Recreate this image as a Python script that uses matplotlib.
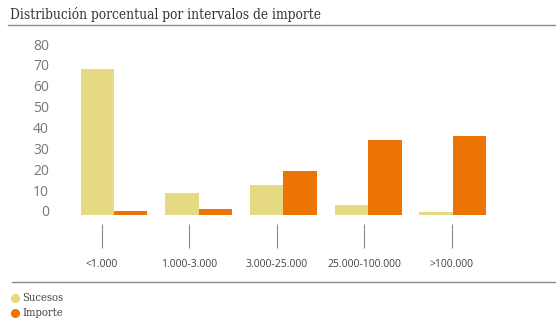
import matplotlib
matplotlib.use("Agg")
import matplotlib.pyplot as plt
from matplotlib.transforms import ScaledTranslation
from matplotlib.lines import Line2D
import numpy as np

categories = ["<1.000", "1.000-3.000", "3.000-25.000", "25.000-100.000", ">100.000"]
sucesos = [69.8, 10.4, 14.4, 4.8, 1.4]
importe = [1.9, 2.7, 21.2, 35.9, 38.0]
series_names = ["Sucesos", "Importe"]
yticks = [0, 10, 20, 30, 40, 50, 60, 70, 80]

C_SUC = "#E5D981"
C_IMP = "#EC7404"
GRID = "#8a8a8a"

W, H = 556, 322
fig = plt.figure(figsize=(W / 100, H / 100), dpi=100)

# axes placement in pixels
L, R, T, B = 60, 540, 48, 224
ax = fig.add_axes([L / W, 1 - B / H, (R - L) / W, (B - T) / H])

c0, step = 114, 84.7   # pixel of first group center, spacing
ax.set_xlim((L - c0) / step, (R - c0) / step)
ax.set_ylim(-(B - 215) / ((215 - T) / 80), 80)

x = np.arange(len(categories))
w = 0.395
ax.bar(x - w / 2, sucesos, w, color=C_SUC, linewidth=0)
ax.bar(x + w / 2, importe, w, color=C_IMP, linewidth=0)

for s in ax.spines.values():
    s.set_visible(False)

ax.set_yticks(yticks)
ax.set_yticklabels([str(v) for v in yticks])
ax.tick_params(axis="y", length=0, pad=8, labelsize=10, labelcolor="#777777")
for lab in ax.get_yticklabels():
    lab.set_fontfamily("Open Sans")
    lab.set_transform(lab.get_transform() + ScaledTranslation(0, 4 / 100, fig.dpi_scale_trans))

tick_pos = x * 1.033 - 0.142
ax.set_xticks(tick_pos)
ax.set_xticklabels(categories)
ax.tick_params(axis="x", length=17.3, width=0.8, color=GRID, direction="out",
               pad=8, labelsize=7.5, labelcolor="#444444")
for lab in ax.get_xticklabels():
    lab.set_fontfamily("Open Sans")

# title and rules
fig.text(10 / W, 1 - 19.5 / H, "Distribución porcentual por intervalos de importe",
         fontsize=9.8, family="DejaVu Serif", stretch="condensed", color="#333333",
         va="baseline", ha="left")
fig.add_artist(Line2D([8 / W, 1], [1 - 24.5 / H] * 2, color=GRID, lw=1))
fig.add_artist(Line2D([12 / W, 1], [1 - 281.5 / H] * 2, color=GRID, lw=1))

# legend
for name, col, yy in zip(series_names, [C_SUC, C_IMP], [298, 313]):
    fig.add_artist(Line2D([15 / W], [1 - yy / H], marker="o", markersize=5.5,
                          color=col, linestyle="none"))
    fig.text(22 / W, 1 - yy / H, name, fontsize=8, family="DejaVu Serif",
             stretch="condensed", color="#444444", va="center", ha="left")

fig.savefig("out.png", dpi=100)
